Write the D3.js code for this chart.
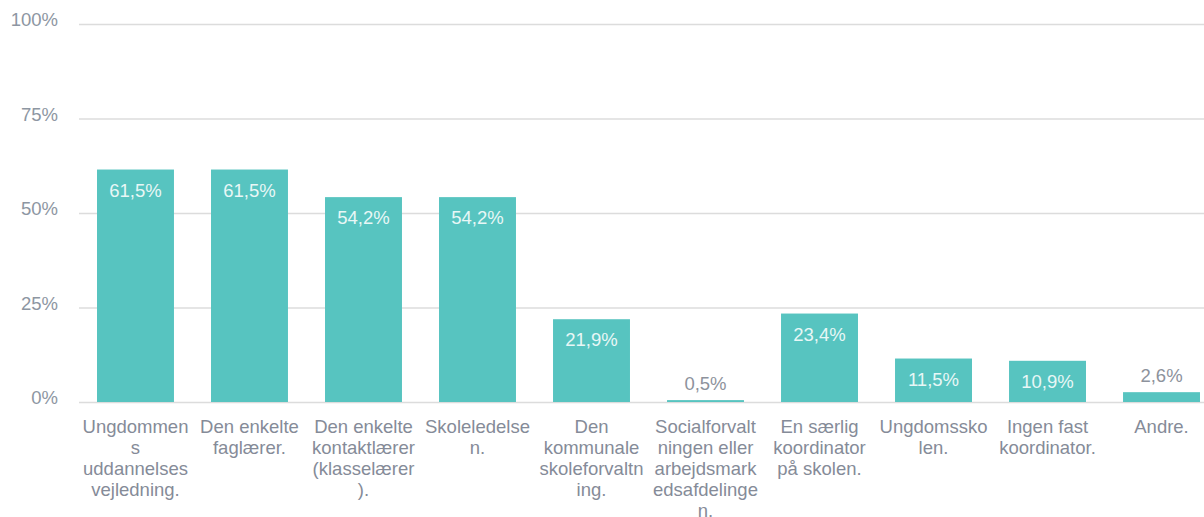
<html>
<head>
  <meta charset="utf-8" />
  <script src="https://cdnjs.cloudflare.com/ajax/libs/d3/7.8.5/d3.min.js"></script>
  <style>
    body { margin: 0; background: #fff; }
    text { font-family: "Liberation Sans", Arial, sans-serif; }
  </style>
</head>
<body>
  <svg></svg>
  <script>

  var categories = ["Ungdommens uddannelsesvejledning.", "Den enkelte faglærer.", "Den enkelte kontaktlærer (klasselærer).",
                    "Skoleledelsen.", "Den kommunale skoleforvaltning.", "Socialforvaltningen eller arbejdsmarkedsafdelingen.",
                    "En særlig koordinator på skolen.", "Ungdomsskolen.", "Ingen fast koordinator.", "Andre."]
  // tick labels as wrapped in the chart
  var categoryLines = [
    ["Ungdommen", "s", "uddannelses", "vejledning."],
    ["Den enkelte", "faglærer."],
    ["Den enkelte", "kontaktlærer", "(klasselærer", ")."],
    ["Skoleledelse", "n."],
    ["Den", "kommunale", "skoleforvaltn", "ing."],
    ["Socialforvalt", "ningen eller", "arbejdsmark", "edsafdelinge", "n."],
    ["En særlig", "koordinator", "på skolen."],
    ["Ungdomssko", "len."],
    ["Ingen fast", "koordinator."],
    ["Andre."]
  ]
  var values = [61.5, 61.5, 54.2, 54.2, 21.9, 0.5, 23.4, 11.5, 10.9, 2.6]
  var yTicks = [0, 25, 50, 75, 100]

  var width = 1204, height = 517
  var svg = d3.select("svg").attr("width", width).attr("height", height)

  var xScale = d3.scaleBand().domain(categories).range([79, 1218]).paddingInner(0.325).paddingOuter(0.158)
  var yScale = d3.scaleLinear().domain([0, 100]).range([402, 24])
  var fmt = v => d3.format(".1f")(v).replace(".", ",") + "%"

  // gridlines + tick labels
  var yAxis = d3.axisLeft(yScale).tickValues(yTicks).tickSize(-(width - 79)).tickFormat(d => d + "%").tickPadding(21)
  var gy = svg.append("g").attr("transform", "translate(79,0)").call(yAxis)
  gy.select(".domain").remove()
  gy.selectAll(".tick line").attr("stroke", "#dcdcdc").attr("stroke-width", 1.3)
  gy.selectAll(".tick text")
    .attr("fill", "#8d96a2").attr("font-size", 18.5)
    .attr("font-family", "Liberation Sans, Arial, sans-serif")
    .attr("dy", "0.1em")

  // bars
  svg.selectAll("rect.bar").data(values).enter().append("rect")
    .attr("class", "bar")
    .attr("x", (d, i) => xScale(categories[i]))
    .attr("width", xScale.bandwidth())
    .attr("y", d => yScale(d))
    .attr("height", d => yScale(0) - yScale(d))
    .attr("fill", "#57c4c0")

  // value labels
  svg.selectAll("text.val").data(values).enter().append("text")
    .attr("class", "val")
    .attr("x", (d, i) => xScale(categories[i]) + xScale.bandwidth() / 2)
    .attr("y", d => (yScale(0) - yScale(d) > 30) ? yScale(d) + 27 : yScale(d) - 10)
    .attr("text-anchor", "middle")
    .attr("font-size", 18.5)
    .attr("fill", d => (yScale(0) - yScale(d) > 30) ? "#e8f7f6" : "#8d929c")
    .text(fmt)

  // category labels
  svg.selectAll("text.cat").data(categories).enter().append("text")
    .attr("class", "cat")
    .attr("text-anchor", "middle")
    .attr("font-size", 18.5)
    .attr("fill", "#858b98")
    .each(function(d, i) {
      var x = xScale(d) + xScale.bandwidth() / 2
      d3.select(this).selectAll("tspan").data(categoryLines[i]).enter().append("tspan")
        .attr("x", x)
        .attr("y", (l, j) => 433 + j * 21)
        .text(l => l)
    })

  </script>
</body>
</html>
